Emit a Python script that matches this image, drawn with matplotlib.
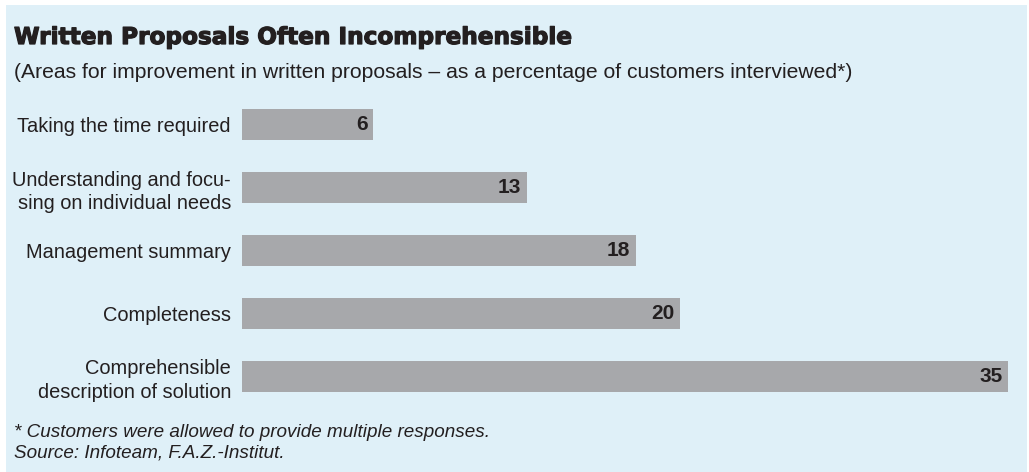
import matplotlib
matplotlib.use("Agg")
import matplotlib.pyplot as plt
import matplotlib.patheffects as pe
from matplotlib.patches import Rectangle

categories = [
    "Taking the time required",
    "Understanding and focu-\nsing on individual needs",
    "Management summary",
    "Completeness",
    "Comprehensible\ndescription of solution",
]
values = [6, 13, 18, 20, 35]

title = "Written Proposals Often Incomprehensible"
subtitle = "(Areas for improvement in written proposals \u2013 as a percentage of customers interviewed*)"
notes = ["* Customers were allowed to provide multiple responses.",
         "Source: Infoteam, F.A.Z.-Institut."]

W, H = 1029, 472
BG = "#dff0f8"
BAR = "#a7a8ab"
TXT = "#231f20"

plt.rcParams["font.family"] = ["Liberation Sans", "DejaVu Sans"]

fig = plt.figure(figsize=(W / 100, H / 100), dpi=100)
fig.patch.set_facecolor("white")

# light-blue panel behind everything
fig.add_artist(Rectangle((6 / W, 0), (1027 - 6) / W, (H - 5) / H,
                         transform=fig.transFigure, facecolor=BG,
                         edgecolor="none", zorder=0))

def fx(px):
    return px / W

def fy(py):
    return 1 - py / H

fig.text(fx(14), fy(44), title, fontsize=16.7, fontweight="heavy",
         family=["DejaVu Sans"], color=TXT, va="baseline", ha="left",
         path_effects=[pe.withStroke(linewidth=0.9, foreground=TXT)])
fig.text(fx(14), fy(78), subtitle, fontsize=15.2, color=TXT,
         va="baseline", ha="left")
fig.text(fx(14), fy(437), notes[0], fontsize=13.6, style="italic",
         color=TXT, va="baseline", ha="left")
fig.text(fx(14), fy(458), notes[1], fontsize=13.6, style="italic",
         color=TXT, va="baseline", ha="left")

ax_left, ax_right = 242, 1008
ax_top, ax_bottom = 93, 408
ax = fig.add_axes([fx(ax_left), fy(ax_bottom), (ax_right - ax_left) / W,
                   (ax_bottom - ax_top) / H])
ax.set_facecolor("none")

ypos = list(range(len(categories)))
ax.barh(ypos, values, height=31 / 63, color=BAR, edgecolor="none")
ax.set_xlim(0, 35)
ax.set_ylim(len(categories) - 0.5, -0.5)

for y, v in zip(ypos, values):
    ax.annotate(f"{v}", xy=(v, y), xytext=(-4, 0), textcoords="offset points",
                ha="right", va="center", fontsize=15, fontweight="bold",
                color=TXT)

ax.set_yticks(ypos)
ax.set_yticklabels(categories, fontsize=14.4, color=TXT,
                   multialignment="right", linespacing=1.28)
ax.tick_params(axis="y", length=0, pad=8)
ax.set_xticks([])
for s in ax.spines.values():
    s.set_visible(False)

fig.savefig("out.png", dpi=100, facecolor=fig.get_facecolor())
